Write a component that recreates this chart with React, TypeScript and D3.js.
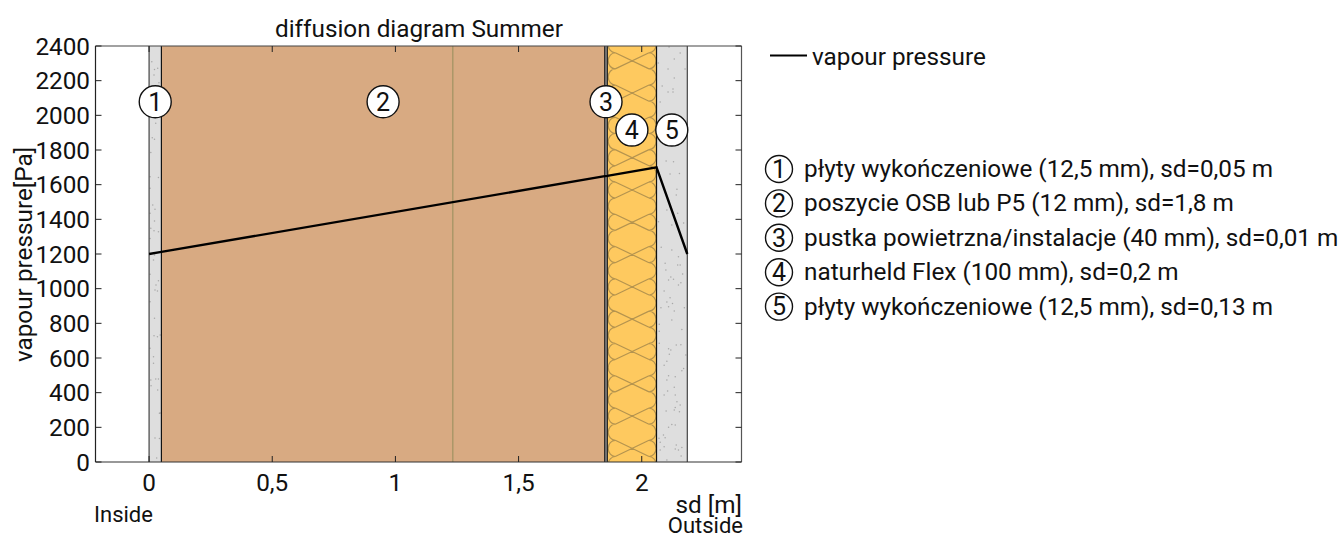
import React from "react";
import * as d3 from "d3";

const W = 1338, H = 536;
const FONT = "Roboto, sans-serif";
const layerNames = ["płyty wykończeniowe (12,5 mm), sd=0,05 m","poszycie OSB lub P5 (12 mm), sd=1,8 m","pustka powietrzna/instalacje (40 mm), sd=0,01 m","naturheld Flex (100 mm), sd=0,2 m","płyty wykończeniowe (12,5 mm), sd=0,13 m"];
const layerEdges = [0, 0.05, 1.85, 1.86, 2.06, 2.185];
const layerColors = ["#dedede", "#d8aa82", "#a8a8a8", "#fec95f", "#dedede"];
const labelPa = [2078, 2078, 2078, 1915, 1915];
const labelSd = [0.025, 0.95, 1.855, 1.96, 2.122];
const seamSd = 1.233;
const sdVals = [0, 0.05, 1.85, 1.86, 2.06, 2.185];
const paVals = [1200, 1212, 1649, 1651, 1700, 1200];
const xTicks = [0, 0.5, 1, 1.5, 2];
const xTickLabels = ["0", "0,5", "1", "1,5", "2"];
const yTicks = [0,200,400,600,800,1000,1200,1400,1600,1800,2000,2200,2400];
// plaster specks, as [sd, Pa]
const specks: [number, number][] = [
 [0.011,2309],[0.035,2271],[0.022,2265],[0.02,2232],[0.04,2188],[0.027,1955],[0.013,1871],[0.022,1862],[0.007,1786],[0.004,1646],[0.038,1642],[0.004,1579],[0.015,1482],[0.024,1458],[0.004,1435],[0.022,1390],[0.007,1348],[0.02,1334],[0.038,1329],[0.004,1290],[0.022,1194],[0.018,1165],[0.004,1083],[0.038,1046],[0.028,1021],[0.024,992],[0.034,986],[0.004,925],[0.022,829],[0.02,729],[0.034,723],[0.045,733],[0.004,656],[0.018,607],[0.018,569],[0.007,473],[0.027,479],[0.038,479],[0.008,440],[0.035,415],[0.045,283],[0.042,281],[0.024,138],[0.042,136],[0.031,23],
 [2.156,2360],[2.132,2325],[2.067,2302],[2.107,2267],[2.176,2267],[2.132,2215],[2.083,2169],[2.107,2135],[2.127,2152],[2.127,2135],[2.075,2077],[2.111,2394],
 [2.099,1736],[2.129,1732],[2.153,1665],[2.115,1661],[2.143,1573],[2.14,1540],[2.102,1454],[2.146,1435],[2.068,1386],[2.122,1367],[2.17,1379],[2.079,1239],[2.122,1223],[2.149,1184],[2.095,1146],[2.146,1136],
 [2.098,1108],[2.156,1136],[2.166,1085],[2.118,1067],[2.109,1050],[2.129,1055],[2.159,1034],[2.149,1021],[2.091,986],[2.115,948],[2.102,923],[2.125,915],[2.109,896],[2.132,871],[2.078,890],[2.173,890],[2.122,819],[2.071,794],[2.163,765],[2.071,754],[2.071,685],[2.109,654],[2.118,646],[2.14,675],[2.159,677],[2.112,621],[2.179,617],[2.102,581],[2.091,558],[2.17,540],[2.163,526],[2.109,498],[2.136,492],[2.102,473],[2.132,431],[2.105,410],[2.091,387],[2.136,387],
 [2.143,348],[2.156,329],[2.136,315],[2.132,300],[2.099,294],[2.153,290],[2.109,200],[2.122,217],[2.136,213],[2.088,156],[2.07,137],[2.095,140],[2.075,114],[2.091,88],[2.14,98],[2.163,83],[2.149,69],[2.136,75],[2.075,69],[2.16,35],[2.102,12],
];

const x = d3.scaleLinear().domain([-0.2175, 2.405]).range([95.5, 741.5]);
const y = d3.scaleLinear().domain([0, 2400]).range([462, 46]);
const line = d3.line<number>().x((d) => x(d)).y((_, i) => y(paVals[i]));

// insulation symbol: crossing diagonals between round lobes on both sides
function insulationPath(): string {
  const xl = x(layerEdges[3]) + 8, xr = x(layerEdges[4]) - 7.5;
  const period = 32.3, h = period / 4, rx = 7, ry = h;
  let d = "";
  for (let k = -6; k <= 10; k++) {
    const c = 190 + k * period;
    d += `M${xl},${c - h}L${xr},${c + h}M${xl},${c + h}L${xr},${c - h}`;
    d += `M${xl},${c - h}A${rx},${ry} 0 0 0 ${xl},${c + h}A${rx},${ry} 0 0 0 ${xl},${c + 3 * h}`;
    d += `M${xr},${c - h}A${rx},${ry} 0 0 1 ${xr},${c + h}A${rx},${ry} 0 0 1 ${xr},${c + 3 * h}`;
  }
  return d;
}

const Circled = ({ cx, cy, r, t, fs, fill }: any) => (
  <g>
    <circle cx={cx} cy={cy} r={r} fill={fill} stroke="#111" strokeWidth={1.4} />
    <text x={cx} y={cy + fs * 0.355} textAnchor="middle" fontSize={fs} fill="#111">{t}</text>
  </g>
);

export default function App() {
  const left = x.range()[0], right = x.range()[1], top = y.range()[1], bottom = y.range()[0];
  return (
    <svg width={W} height={H} viewBox={`0 0 ${W} ${H}`} fontFamily={FONT}
      style={{ position: "absolute", left: 0, top: 0, background: "#fff" }}>
      <defs>
        <clipPath id="ins"><rect x={x(layerEdges[3])} y={top} width={x(layerEdges[4]) - x(layerEdges[3])} height={bottom - top} /></clipPath>
      </defs>
      {layerColors.map((c, i) => (
        <rect key={i} x={x(layerEdges[i])} y={top} width={x(layerEdges[i + 1]) - x(layerEdges[i])} height={bottom - top} fill={c} />
      ))}
      <path d={insulationPath()} fill="none" stroke="#b5944f" strokeWidth={1.2} clipPath="url(#ins)" />
      {specks.map(([s, p], i) => <circle key={i} cx={x(s)} cy={y(p)} r={0.75} fill="#a8a8a8" />)}
      <line x1={x(seamSd)} x2={x(seamSd)} y1={top} y2={bottom} stroke="#a59464" strokeWidth={1.3} />
      {layerEdges.map((e, i) => (
        <line key={i} x1={x(e)} x2={x(e)} y1={top} y2={bottom} stroke={i === 0 || i === 5 ? "#444" : "#111"} strokeWidth={1.2} />
      ))}
      <path d={line(sdVals) ?? ""} fill="none" stroke="#000" strokeWidth={2.4} />

      <line x1={left} x2={right} y1={top} y2={top} stroke="#444" strokeWidth={1.2} />
      <line x1={left} x2={right} y1={bottom} y2={bottom} stroke="#333" strokeWidth={1.2} />
      <line x1={left} x2={left} y1={top} y2={bottom} stroke="#222" strokeWidth={1.2} />
      <line x1={right} x2={right} y1={top} y2={bottom} stroke="#555" strokeWidth={1.2} />
      {yTicks.map((t) => (
        <g key={t}>
          <line x1={left} x2={left + 6} y1={y(t)} y2={y(t)} stroke="#222" />
          <line x1={right - 6} x2={right} y1={y(t)} y2={y(t)} stroke="#222" />
          <text x={90} y={y(t) + 8.5} textAnchor="end" fontSize={24.3} fill="#111">{t}</text>
        </g>
      ))}
      {xTicks.map((t, i) => (
        <g key={t}>
          <line x1={x(t)} x2={x(t)} y1={bottom - 6} y2={bottom} stroke="#222" />
          <line x1={x(t)} x2={x(t)} y1={top} y2={top + 6} stroke="#222" />
          <text x={x(t)} y={490.5} textAnchor="middle" fontSize={24.3} fill="#111">{xTickLabels[i]}</text>
        </g>
      ))}
      <text x={419} y={37} textAnchor="middle" fontSize={24.3} fill="#111">diffusion diagram Summer</text>
      <text transform="translate(32,254.5) rotate(-90)" textAnchor="middle" fontSize={24.3} fill="#111">vapour pressure[Pa]</text>
      <text x={742} y={513} textAnchor="end" fontSize={24.3} fill="#111">sd [m]</text>
      <text x={743} y={533} textAnchor="end" fontSize={22} fill="#111">Outside</text>
      <text x={94} y={521.5} fontSize={22} fill="#111">Inside</text>

      {labelSd.map((s, i) => (
        <Circled key={i} cx={x(s)} cy={y(labelPa[i])} r={16} t={i + 1} fs={25} fill="#fff" />
      ))}

      <line x1={770} x2={807} y1={55.5} y2={55.5} stroke="#000" strokeWidth={2} />
      <text x={812} y={65} fontSize={24.3} fill="#111">vapour pressure</text>
      {layerNames.map((n, i) => (
        <g key={i}>
          <Circled cx={779} cy={169 + i * 34.4} r={13.5} t={i + 1} fs={25} fill="none" />
          <text x={804} y={177 + i * 34.4} fontSize={24.3} fill="#111">{n}</text>
        </g>
      ))}
    </svg>
  );
}
